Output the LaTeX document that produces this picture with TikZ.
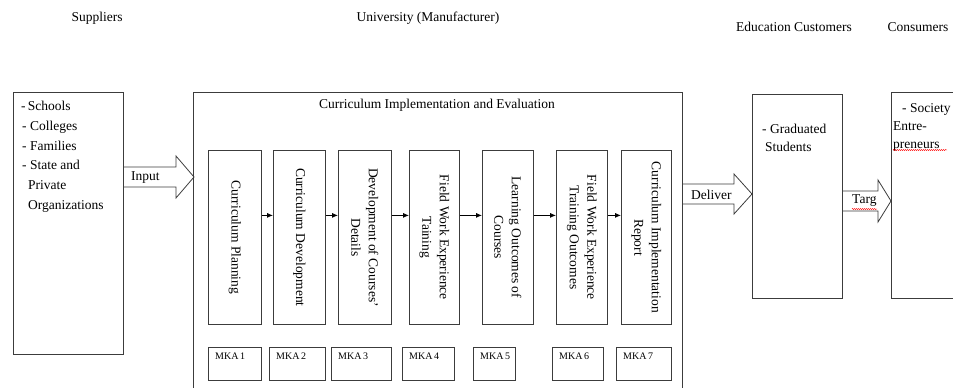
\documentclass[tikz,border=0pt]{standalone}
\usepackage{fontspec}
\setmainfont{Liberation Serif}
\usetikzlibrary{calc,arrows.meta,decorations.pathmorphing}
\definecolor{ln}{HTML}{3C3C3C}
\newcommand\blockarrow[5]{%
  \draw[blk] ($(#1)+(0,#3)$) -- ($(#2)+(-#5,#3)$) -- ($(#2)+(-#5,#4)$) -- (#2)
    -- ($(#2)+(-#5,-#4)$) -- ($(#2)+(-#5,-#3)$) -- ($(#1)+(0,-#3)$);}
\begin{document}
\begin{tikzpicture}[x=1pt,y=-1pt,
  txt/.style={font=\fontsize{13.5}{19}\selectfont, inner sep=0pt},
  boxs/.style={draw=ln, line width=0.8pt, rectangle, inner sep=0pt, anchor=north west},
  vtxt/.style={font=\fontsize{13.5}{17.5}\selectfont, rotate=-90, align=center, inner sep=0pt},
  mka/.style={font=\fontsize{10}{12}\selectfont, inner sep=0pt, anchor=north west},
  blk/.style={draw=ln, line width=0.8pt, line join=miter},
  flow/.style={draw=black, line width=0.8pt, -{Latex[length=6pt,width=5pt]}},
  wavy/.style={draw=red, line width=0.4pt, decorate, decoration={snake, amplitude=0.6pt, segment length=2pt}}]
\useasboundingbox (0,0) rectangle (953,388);

% headers
\node[txt] (hsup) at (97,18) {Suppliers};
\node[txt] (huni) at (428,18) {University (Manufacturer)};
\node[txt] (hedu) at (794,27) {Education Customers};
\node[txt] (hcon) at (918,27) {Consumers};

% suppliers
\node[boxs, minimum width=110pt, minimum height=262pt] (sup) at (13,92) {};
\node[txt, anchor=north west, align=left, font=\fontsize{13.5}{19.8}\selectfont] (suptx) at (21,101)
  {-\,Schools\\ \hspace*{1pt}- Colleges\\ \hspace*{1pt}- Families\\ \hspace*{1pt}- State and\\ \hspace*{7pt}Private\\ \hspace*{7pt}Organizations};

% university
\node[boxs, minimum width=489pt, minimum height=305pt] (uni) at (193,92) {};
\node[txt] (title) at (437,105) {Curriculum Implementation and Evaluation};

\node[boxs, minimum width=53pt, minimum height=174pt] (b1) at (208,150) {};
\node[boxs, minimum width=52pt, minimum height=174pt] (b2) at (273,150) {};
\node[boxs, minimum width=53pt, minimum height=174pt] (b3) at (338,150) {};
\node[boxs, minimum width=50pt, minimum height=174pt] (b4) at (409,150) {};
\node[boxs, minimum width=51pt, minimum height=174pt] (b5) at (482,150) {};
\node[boxs, minimum width=51pt, minimum height=174pt] (b6) at (556,150) {};
\node[boxs, minimum width=50pt, minimum height=174pt] (b7) at (621,150) {};

\node[vtxt] (t1) at (b1.center) {Curriculum Planning};
\node[vtxt] (t2) at (b2.center) {Curriculum Development};
\node[vtxt] (t3) at (b3.center) {Development of Courses'\\Details};
\node[vtxt] (t4) at (b4.center) {Field Work Experience\\Taining};
\node[vtxt] (t5) at (b5.center) {Learning Outcomes of\\Courses};
\node[vtxt] (t6) at (b6.center) {Field Work Experience\\Training Outcomes};
\node[vtxt] (t7) at (b7.center) {Curriculum Implementation\\Report};

\foreach \a/\b in {b1/b2,b2/b3,b3/b4,b4/b5,b5/b6,b6/b7}
  \draw[flow] ([yshift=22pt]\a.east) -- ([yshift=22pt]\b.west);

\node[boxs, minimum width=53pt, minimum height=33pt] (m1) at (208,347) {};
\node[boxs, minimum width=56pt, minimum height=33pt] (m2) at (269,347) {};
\node[boxs, minimum width=60pt, minimum height=33pt] (m3) at (331,347) {};
\node[boxs, minimum width=52pt, minimum height=33pt] (m4) at (402,347) {};
\node[boxs, minimum width=42pt, minimum height=33pt] (m5) at (473,347) {};
\node[boxs, minimum width=51pt, minimum height=33pt] (m6) at (552,347) {};
\node[boxs, minimum width=55pt, minimum height=33pt] (m7) at (616,347) {};
\foreach \m/\n in {m1/1,m2/2,m3/3,m4/4,m5/5,m6/6,m7/7}
  \node[mka] (l\m) at ([xshift=7pt,yshift=-6pt]\m.north west) {MKA\,\n};

% customers
\node[boxs, minimum width=90pt, minimum height=204pt] (grad) at (752,94) {};
\node[txt, anchor=north west, align=left, font=\fontsize{13.5}{18}\selectfont] (gradtx) at (762,124)
  {- Graduated\\ \hspace*{3pt}Students};
\node[boxs, minimum width=80pt, minimum height=206pt] (cons) at (891,92) {};
\node[txt, anchor=north west, align=left, font=\fontsize{13.5}{18}\selectfont] (constx) at (893,103)
  {\hspace*{9pt}- Society\\ Entre-\\ preneurs};
\draw[wavy] (893,150) -- (947,150);

% block arrows
\coordinate (inA) at (sup.east |- 0,177);
\coordinate (inB) at (194,177);
\blockarrow{inA}{inB}{10}{21}{18}
\node[txt, anchor=west] (inlab) at (131,178) {Input};

\coordinate (dlA) at (uni.east |- 0,194);
\coordinate (dlB) at (grad.west |- 0,194);
\blockarrow{dlA}{dlB}{10}{20}{18}
\node[txt, anchor=west] (dllab) at (691,195) {Deliver};

\coordinate (tgA) at (grad.east |- 0,201);
\coordinate (tgB) at (cons.west |- 0,201);
\blockarrow{tgA}{tgB}{10}{21}{13}
\node[txt, anchor=west] (tglab) at (852,201) {Targ};
\draw[wavy] (852,209) -- (877,209);
\end{tikzpicture}
\end{document}
